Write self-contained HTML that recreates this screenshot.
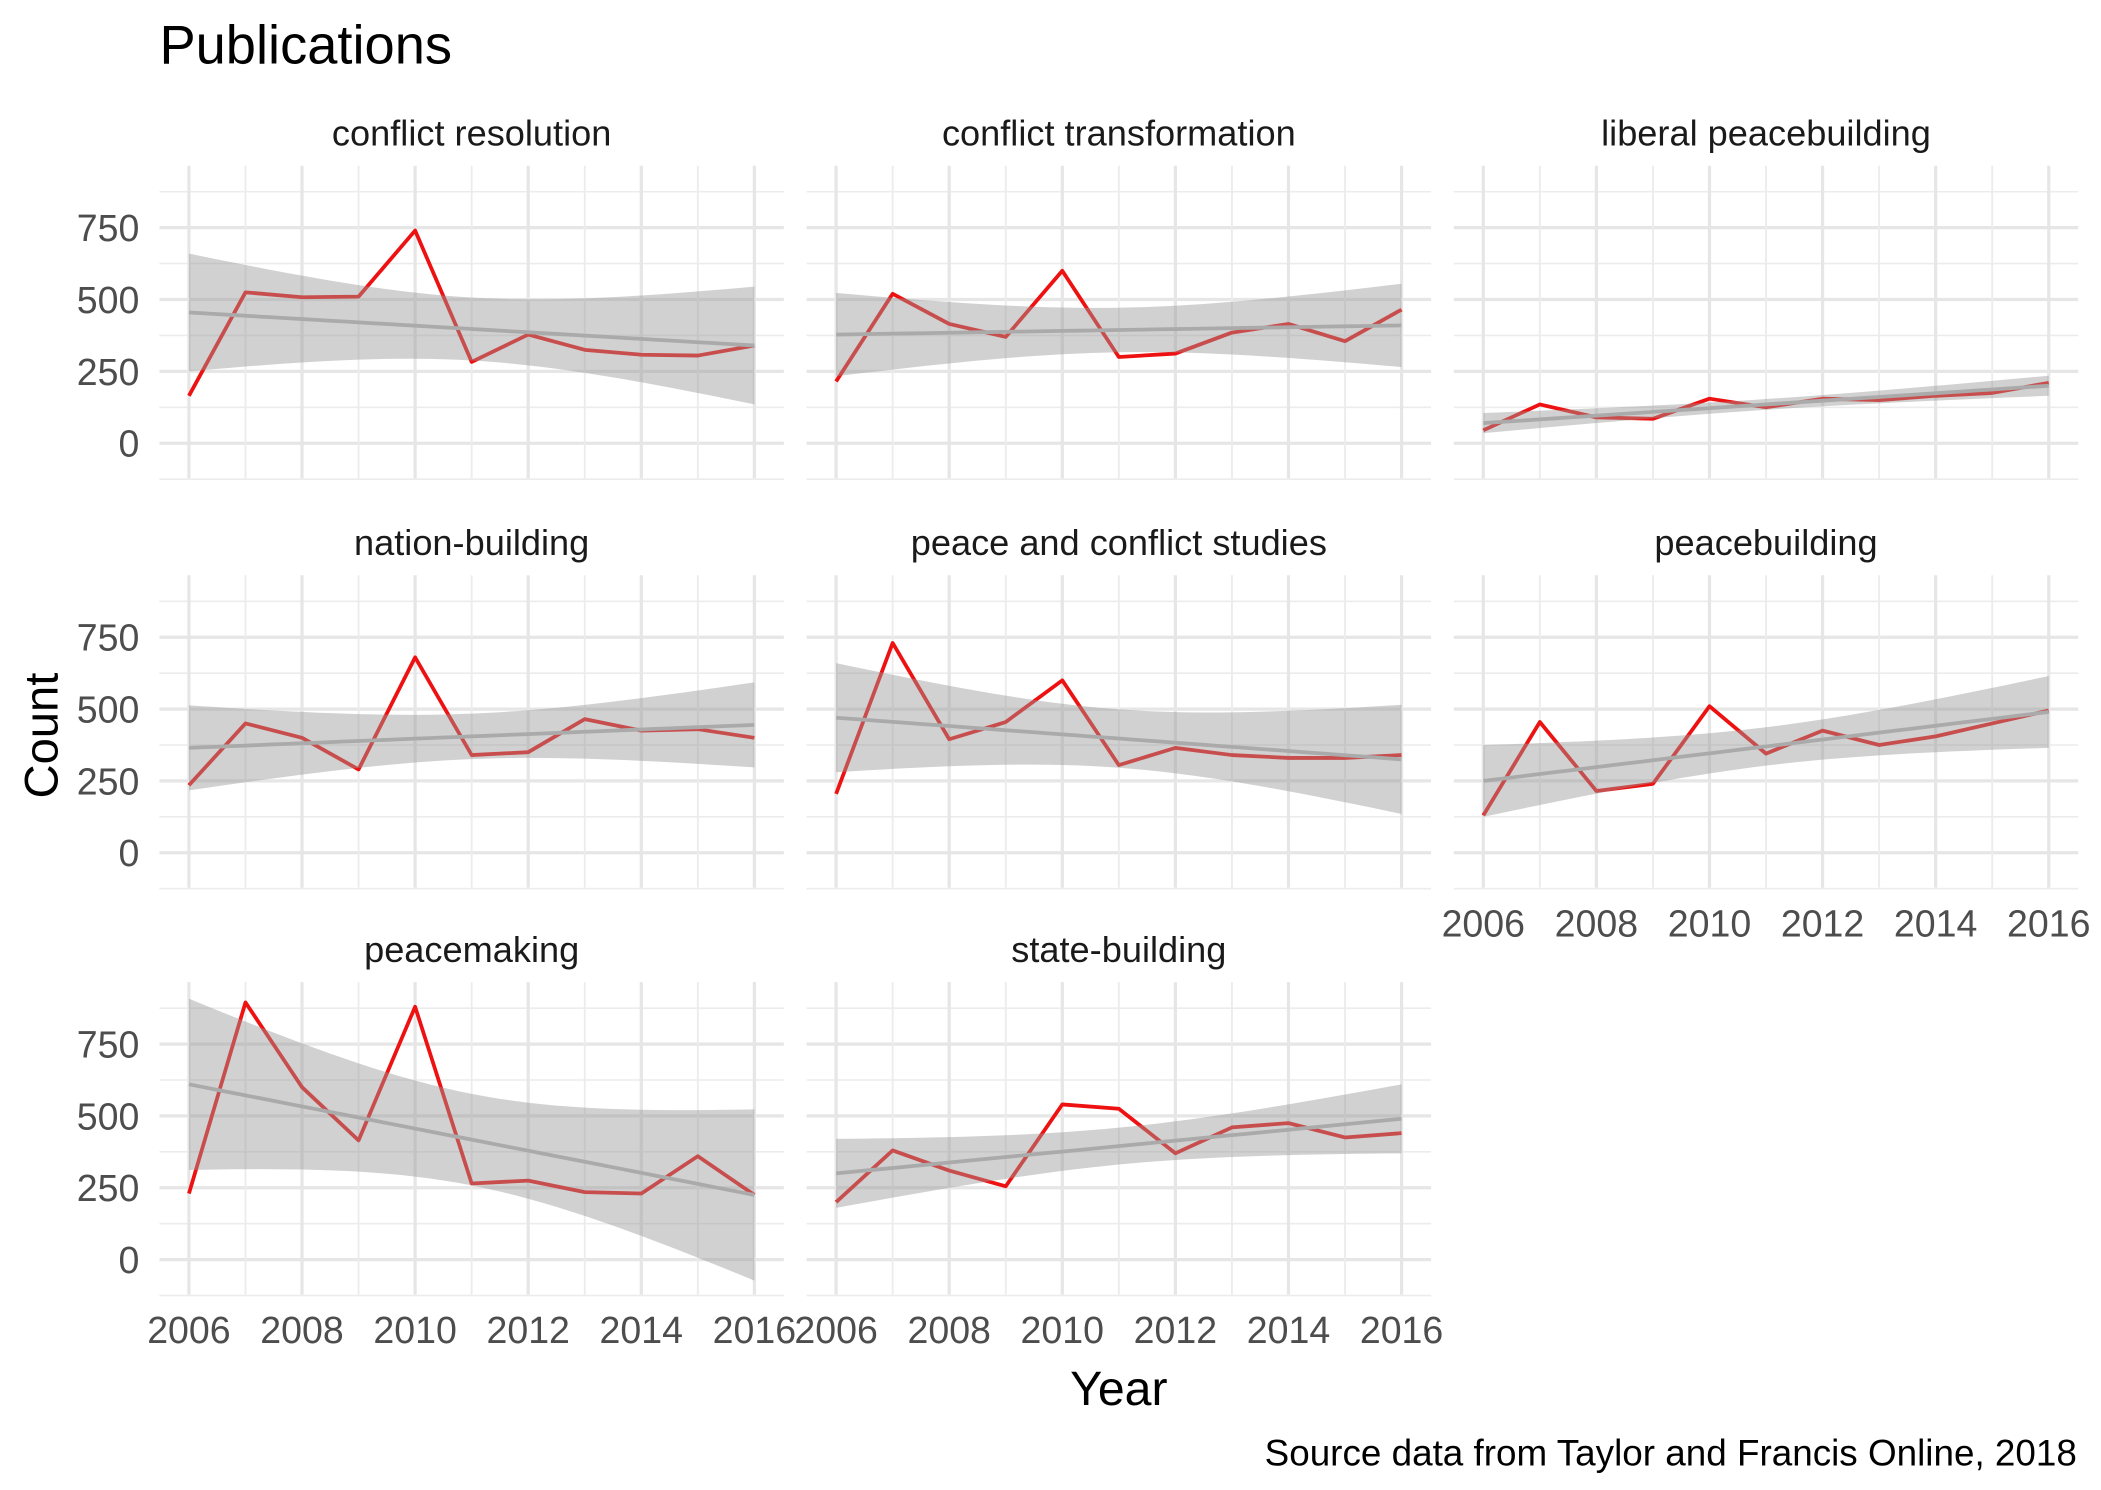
<!DOCTYPE html>
<html><head><meta charset="utf-8"><style>
html,body{margin:0;padding:0;background:#fff}
svg{display:block}
text{font-family:"Liberation Sans",Arial,sans-serif}
</style></head><body>
<svg id="chart" width="2101" height="1490" viewBox="0 0 1568 1106" preserveAspectRatio="none" xmlns="http://www.w3.org/2000/svg">
<text x="119" y="47" font-size="40.5" fill="#000">Publications</text>
<text transform="translate(43,546) rotate(-90)" font-size="35" text-anchor="middle" fill="#000">Count</text>
<text x="835" y="1043" font-size="36" text-anchor="middle" fill="#000">Year</text>
<text x="1550" y="1088" font-size="27.5" text-anchor="end" fill="#000">Source data from Taylor and Francis Online, 2018</text>
</svg>
<script>
const years=[2006,2007,2008,2009,2010,2011,2012,2013,2014,2015,2016];
const panelNames=["conflict resolution","conflict transformation","liberal peacebuilding","nation-building","peace and conflict studies","peacebuilding","peacemaking","state-building"];
const sConflictResolution=[165,525,508,510,740,283,378,325,308,305,340];
const sConflictTransformation=[215,520,415,370,600,300,312,385,415,355,465];
const sLiberalPeacebuilding=[45,135,90,85,155,125,155,150,165,175,210];
const sNationBuilding=[235,450,400,290,680,340,350,465,425,430,400];
const sPeaceConflictStudies=[205,730,395,455,600,305,365,340,330,330,340];
const sPeacebuilding=[130,455,215,240,510,345,425,375,405,450,495];
const sPeacemaking=[230,895,600,415,880,265,275,235,230,360,225];
const sStateBuilding=[200,380,310,255,540,525,370,460,475,425,440];
const trendStart=[455,378,70,365,470,250,610,300];
const trendEnd=[340,410,200,445,325,490,225,490];
const bandHalf=[205,145,35,148,190,125,298,120];
const yTicks=[0,250,500,750];
const yMinor=[-125,125,375,625,875];
const xTicks=[2006,2008,2010,2012,2014,2016];

const series=[sConflictResolution,sConflictTransformation,sLiberalPeacebuilding,sNationBuilding,sPeaceConflictStudies,sPeacebuilding,sPeacemaking,sStateBuilding];
const NS="http://www.w3.org/2000/svg";
const svg=document.getElementById('chart');
const colX=[119,602,1085], panelW=466;
const rowY=[123,427,729], panelH=232;
function el(tag,attrs,parent){const e=document.createElementNS(NS,tag);for(const k in attrs)e.setAttribute(k,attrs[k]);(parent||svg).appendChild(e);return e;}
series.forEach((vals,i)=>{
  const c=i%3,r=Math.floor(i/3);
  const x0=colX[c],y0=rowY[r];
  const xs=v=>x0+22+(v-2006)*(panelW-44)/10;
  const ys=v=>y0+206-v*(160/750);
  const g=el('g',{});
  
  
  const st=el('text',{x:x0+panelW/2,y:y0-15,'font-size':27,'text-anchor':'middle',fill:'#1a1a1a'},g);
  
  
  st.textContent=panelNames[i];
  yMinor.forEach(v=>{const l=el('line',{x1:x0,x2:x0+panelW,y1:ys(v),y2:ys(v),stroke:'#ececec','stroke-width':1.2},g);});
  yTicks.forEach(v=>{const l=el('line',{x1:x0,x2:x0+panelW,y1:ys(v),y2:ys(v),stroke:'#e6e6e6','stroke-width':2.4},g);});
  years.forEach(v=>{const maj=(v%2===0);const l=el('line',{x1:xs(v),x2:xs(v),y1:y0,y2:y0+panelH,stroke:maj?'#e6e6e6':'#ececec','stroke-width':maj?2.4:1.4},g);});
  if(c===0){yTicks.forEach(v=>{const t=el('text',{x:x0-15,y:ys(v)+10,'font-size':28,'text-anchor':'end',fill:'#4d4d4d'},g);t.textContent=v;});}
  if(i>=5){xTicks.forEach(v=>{const t=el('text',{x:xs(v),y:y0+panelH+36,'font-size':28,'text-anchor':'middle',fill:'#4d4d4d'},g);t.textContent=v;});}
  const pts=vals.map((v,k)=>xs(years[k])+','+ys(v)).join(' ');
  const pl=el('polyline',{points:pts,fill:'none',stroke:'#ee1111','stroke-width':2.8,'stroke-linejoin':'round'},g);
  
  
  const up=[],lo=[],tr=[];
  for(let k=0;k<=40;k++){
    const yr=2006+k*0.25,d=yr-2011;
    const m=trendStart[i]+(trendEnd[i]-trendStart[i])*(yr-2006)/10;
    const h=bandHalf[i]*Math.sqrt((1/11+d*d/110)/(1/11+25/110));
    up.push(xs(yr)+','+ys(m+h));lo.unshift(xs(yr)+','+ys(m-h));tr.push(xs(yr)+','+ys(m));
  }
  const bd=el('polygon',{points:up.concat(lo).join(' '),fill:'#999999','fill-opacity':0.45},g);
  
  
  const tl=el('polyline',{points:tr.join(' '),fill:'none',stroke:'#aaaaaa','stroke-width':2.8},g);
  
  
});
</script>
</body></html>
